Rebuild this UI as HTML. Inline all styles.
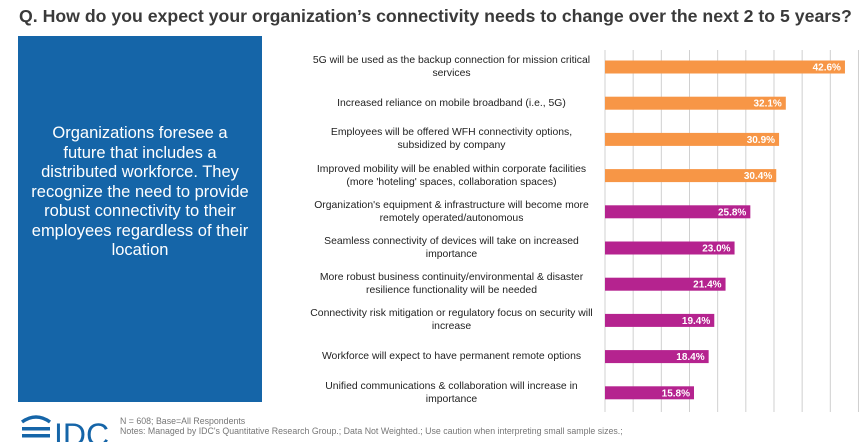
<!DOCTYPE html>
<html><head><meta charset="utf-8"><style>
body{margin:0;width:864px;height:437px;background:#fff;font-family:"Liberation Sans",sans-serif;position:relative;overflow:hidden}
.title{position:absolute;left:19px;top:6px;font-size:17.7px;font-weight:bold;color:#3a3a3a;white-space:nowrap}
.panel{position:absolute;left:18px;top:36px;width:244px;height:366px;background:#1565a8;color:#fff;text-align:center;font-size:16.5px;line-height:19.5px;padding:88px 8px 0;box-sizing:border-box}
.lbl{position:absolute;left:305px;width:293px;text-align:center;font-size:10.4px;color:#222;line-height:13px}
.foot{position:absolute;left:120px;font-size:8.8px;color:#777;white-space:nowrap}
</style></head><body>
<div class="title">Q. How do you expect your organization’s connectivity needs to change over the next 2 to 5 years?</div>
<div class="panel">Organizations foresee a<br>future that includes a<br>distributed workforce. They<br>recognize the need to provide<br>robust connectivity to their<br>employees regardless of their<br>location</div>
<svg id="chart" width="864" height="437" style="position:absolute;left:0;top:0"></svg>
<div id="labels"></div>
<svg width="100" height="30" style="position:absolute;left:20px;top:412px">
<path d="M2 10 Q16 0 30 10" stroke="#1565a8" stroke-width="3.5" fill="none"/>
<rect x="2" y="15" width="28" height="3.5" fill="#1565a8"/><rect x="2" y="22" width="28" height="3.5" fill="#1565a8"/>
<text x="34" y="34" font-family="Liberation Sans" font-size="32" fill="#1565a8">IDC</text></svg>
<div class="foot" style="top:416px">N = 608; Base=All Respondents</div>
<div class="foot" style="top:426px">Notes: Managed by IDC's Quantitative Research Group.; Data Not Weighted.; Use caution when interpreting small sample sizes.;</div>
<script>
const categories=["5G will be used as the backup connection for mission critical services","Increased reliance on mobile broadband (i.e., 5G)","Employees will be offered WFH connectivity options, subsidized by company","Improved mobility will be enabled within corporate facilities (more 'hoteling' spaces, collaboration spaces)","Organization's equipment & infrastructure will become more remotely operated/autonomous","Seamless connectivity of devices will take on increased importance","More robust business continuity/environmental & disaster resilience functionality will be needed","Connectivity risk mitigation or regulatory focus on security will increase","Workforce will expect to have permanent remote options","Unified communications & collaboration will increase in importance"];
const values=[42.6,32.1,30.9,30.4,25.8,23.0,21.4,19.4,18.4,15.8];
const highlight=[1,1,1,1,0,0,0,0,0,0];
const ticks=[0,5,10,15,20,25,30,35,40,45];
const svg=document.getElementById('chart'),NS='http://www.w3.org/2000/svg';
const x=v=>605+v*5.633;
const y=i=>67+i*36.2;
ticks.forEach(t=>{const l=document.createElementNS(NS,'line');
l.setAttribute('x1',x(t));l.setAttribute('x2',x(t));l.setAttribute('y1',50);l.setAttribute('y2',412);
l.setAttribute('stroke','#d0d0d0');l.setAttribute('stroke-width','1');


svg.appendChild(l);});
const lab=document.getElementById('labels');
values.forEach((v,i)=>{const r=document.createElementNS(NS,'rect');
r.setAttribute('x',x(0));r.setAttribute('y',y(i)-6.5);r.setAttribute('width',x(v)-x(0));r.setAttribute('height',13);
r.setAttribute('fill',highlight[i]?'#f79646':'#b5238f');


svg.appendChild(r);
const t=document.createElementNS(NS,'text');
t.setAttribute('x',x(v)-4);t.setAttribute('y',y(i)+3.5);t.setAttribute('text-anchor','end');
t.setAttribute('fill','#fff');t.setAttribute('font-size','10');t.setAttribute('font-weight','bold');
t.setAttribute('font-family','Liberation Sans');t.textContent=v.toFixed(1)+'%';


svg.appendChild(t);
const d=document.createElement('div');d.className='lbl';d.textContent=categories[i];
d.style.top=(y(i)-13)+'px';d.style.height='26px';d.style.display='flex';d.style.alignItems='center';d.style.justifyContent='center';


lab.appendChild(d);});
</script>
</body></html>
